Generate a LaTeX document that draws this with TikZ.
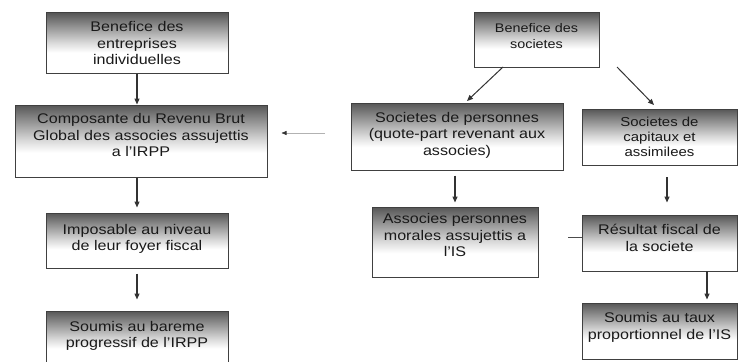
\documentclass[tikz,border=0pt]{standalone}
\usepackage{fontspec}
\setmainfont{Liberation Sans}[FakeStretch=1.15]
\usetikzlibrary{arrows.meta}
\pgfdeclareverticalshading{boxshade}{100bp}{color(0bp)=(white); color(25bp)=(white); color(42bp)=(white); color(50bp)=(black!14); color(75bp)=(black!66); color(100bp)=(black!66)}
\newcommand{\txtlift}[1]{\rule[-#1]{0pt}{#1}}
\begin{document}
\begin{tikzpicture}[x=1pt,y=-1pt,
  box/.style={draw=black!75, line width=1pt, shading=boxshade, align=center, inner sep=2pt, text=black!90, font=\fontsize{14}{16.5}\selectfont},
  arr/.style={-{Triangle[length=6pt,width=5pt]}, line width=1.3pt, draw=black!80},
  thinarr/.style={-{Triangle[length=5pt,width=4pt,color=black!80,fill=black!80]}, line width=0.6pt, draw=black!30},
]
\useasboundingbox (0,0) rectangle (738,361);
% left column
\node[box, minimum width=182pt, minimum height=60pt] (b1) at (137,43) {Benefice des\\entreprises\\individuelles};
\node[box, minimum width=252pt, minimum height=72pt] (b2) at (141,141) {Composante du Revenu Brut\\Global des associes assujettis\\a l'IRPP\txtlift{12pt}};
\node[box, minimum width=182pt, minimum height=55pt] (b3) at (137,240.5) {Imposable au niveau\\de leur foyer fiscal\txtlift{6pt}};
\node[box, minimum width=182pt, minimum height=57pt] (b4) at (137,339.5) {Soumis au bareme\\progressif de l'IRPP\txtlift{10pt}};
% right part
\node[box, minimum width=125pt, minimum height=54pt, font=\fontsize{12.5}{16}\selectfont] (b5) at (536.5,40) {Benefice des\\societes\txtlift{8pt}};
\node[box, minimum width=212pt, minimum height=67pt] (b6) at (457,136.5) {Societes de personnes\\(quote-part revenant aux\\associes)\txtlift{6pt}};
\node[box, minimum width=155pt, minimum height=56pt, font=\fontsize{13}{15}\selectfont] (b7) at (659.5,137) {Societes de\\capitaux et\\assimilees};
\node[box, minimum width=166pt, minimum height=70pt] (b8) at (455,242) {Associes personnes\\morales assujettis a\\l'IS\txtlift{14pt}};
\node[box, minimum width=155pt, minimum height=56pt] (b9) at (659.5,243) {Résultat fiscal de\\la societe\txtlift{10pt}};
\node[box, minimum width=155pt, minimum height=56pt] (b10) at (659.5,331) {Soumis au taux\\proportionnel de l'IS\txtlift{10pt}};
% connectors
\draw[arr] (b1.south) -- (b1.south |- b2.north);
\draw[arr, shorten >=5pt] (b3.north |- b2.south) -- (b3.north);
\draw[arr, shorten <=5pt, shorten >=11pt] (b3.south) -- (b4.north);
\coordinate (c5l) at (503,67);
\coordinate (c5r) at (617,67);
\draw[arr, line width=1pt] (c5l) -- (467,101) coordinate (e6);
\draw[arr, line width=1pt] (c5r) -- (654,105) coordinate (e7);
\draw[arr, shorten <=5pt, shorten >=4pt] (b8.north |- b6.south) -- (b8.north);
\coordinate (c7) at (667,177);
\draw[arr, shorten >=12pt] (c7) -- (c7 |- b9.north);
\coordinate (c9) at (707,271);
\draw[arr, shorten >=3pt] (c9) -- (c9 |- b10.north);
\coordinate (c1) at (325,133);
\draw[thinarr, shorten >=14pt] (c1) -- (b2.east |- c1);
\coordinate (c2) at (568,237);
\draw[line width=0.8pt, draw=black!70] (b9.west |- c2) -- (c2);
\end{tikzpicture}
\end{document}
